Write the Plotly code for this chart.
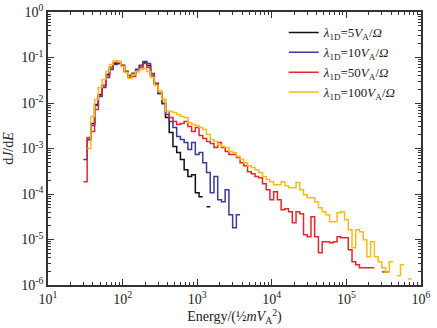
import numpy as np
import plotly.graph_objects as go

# Energy bins: log-spaced, 20 per decade, starting at 10**1.475
n_bins = 88
bin_edges = 10 ** (1.475 + 0.05 * np.arange(n_bins + 1))

N = None
# dJ/dE for each bin (None = empty bin)
black_5 = [N, 1.57e-3, 3.53e-3, 9.27e-3, 0.0154, 0.0243, 0.0425, 0.0605, 0.0741, 0.0741,
           0.067, 0.0494, 0.0404, 0.0447, 0.0547, 0.067, 0.078, 0.067, 0.0404, 0.0269,
           0.0162, 9.75e-3, 4.8e-3, 2.24e-3, 1.1e-3, 8.13e-4, 5.7e-4, 3.43e-4, 2.41e-4, 2.66e-4,
           1.07e-4, 8.73e-5, N, 5.25e-5]

blue_10 = [5.7e-4, 1.57e-3, 3.19e-3, 8.81e-3, 0.0139, 0.0219, 0.0365, 0.0547, 0.0705, 0.0741,
           0.067, 0.0494, 0.0404, 0.0447, 0.0547, 0.067, 0.082, 0.0741, 0.0447, 0.0269,
           0.0162, 9.75e-3, 5.58e-3, 3.91e-3, 2.88e-3, 1.83e-3, 1.57e-3, 1.35e-3, 9.46e-4, 1.35e-3,
           7.34e-4, 8.13e-4, 4.89e-4, 2.95e-4, 1.07e-4, 2.41e-4, 7.5e-5, 6.77e-5, 1.24e-4, 3.5e-5,
           1.81e-5, 3.5e-5]

red_50 = [1.87e-4, 1.74e-3, 2.36e-3, 7.19e-3, 0.0146, 0.0243, 0.0404, 0.0605, 0.078, 0.082,
          0.067, 0.0494, 0.0365, 0.0384, 0.0494, 0.0605, 0.0741, 0.0605, 0.0404, 0.0269,
          0.0179, 0.0119, 6.5e-3, 4.8e-3, 3.91e-3, 3.36e-3, 3.53e-3, 3.91e-3, 3.03e-3, 2.36e-3,
          2.88e-3, 1.92e-3, 1.65e-3, 1.42e-3, 1.28e-3, 1.05e-3, 1.35e-3, 1.05e-3, 8.55e-4, 7.34e-4,
          7.34e-4, 6.31e-4, 4.89e-4, 4.2e-4, 3.1e-4, 2.8e-4, 2.41e-4, 2.29e-4, 1.69e-4, 1.24e-4,
          7.5e-5, 1.12e-4, 7.5e-5, 4.51e-5, 4.74e-5, 4.07e-5, 2.33e-5, 4.07e-5, 3.68e-5, 1.27e-5,
          1.15e-5, 3.16e-5, 1.15e-5, 5.09e-6, 8.9e-6, 8.9e-6, 8.46e-6, 8.9e-6, 1.15e-5, 1.09e-5,
          1.09e-5, 5.93e-6, 3.23e-6, 2.77e-6, 2.38e-6, 2.38e-6, 2.38e-6, 2.38e-6, N, N,
          1.94e-6, 1.94e-6]

yellow_100 = [N, 9.95e-4, 5.05e-3, 0.0119, 0.0219, 0.033, 0.0494, 0.0705, 0.0863, 0.082,
              0.0637, 0.047, 0.0347, 0.0425, 0.0494, 0.0547, 0.0575, 0.0494, 0.0365, 0.0243,
              0.0179, 0.0119, 6.5e-3, 6.5e-3, 6.18e-3, 5.58e-3, 5.05e-3, 4.8e-3, 3.72e-3, 3.36e-3,
              3.19e-3, 2.88e-3, 2.61e-3, 2.02e-3, 1.57e-3, 1.42e-3, 1.22e-3, 1.1e-3, 1.05e-3, 8.55e-4,
              8.13e-4, 6.64e-4, 5.7e-4, 4.89e-4, 4.2e-4, 3.8e-4, 3.43e-4, 2.95e-4, 2.41e-4, 2.07e-4,
              1.87e-4, 1.6e-4, 1.6e-4, 1.87e-4, 1.52e-4, 1.38e-4, 1.38e-4, 1.78e-4, 1.24e-4, 9.66e-5,
              8.3e-5, 8.3e-5, 6.77e-5, 4.99e-5, 4.07e-5, 3.5e-5, 2.45e-5, 2.45e-5, 3.87e-5, 4.07e-5,
              2.72e-5, 1.64e-5, 6.56e-6, 1.64e-5, 1.48e-5, 9.85e-6, 4.16e-6, 8.9e-6, 4.16e-6, 3.23e-6,
              2.38e-6, 1.94e-6, 3.23e-6, N, 1.59e-6, 2.77e-6, N, 1.36e-6]

series = [
    ("<i>λ</i><sub>1D</sub>=5<i>V</i><sub>A</sub>/<i>Ω</i>", black_5, "#111111"),
    ("<i>λ</i><sub>1D</sub>=10<i>V</i><sub>A</sub>/<i>Ω</i>", blue_10, "#3b3b9c"),
    ("<i>λ</i><sub>1D</sub>=50<i>V</i><sub>A</sub>/<i>Ω</i>", red_50, "#e8252d"),
    ("<i>λ</i><sub>1D</sub>=100<i>V</i><sub>A</sub>/<i>Ω</i>", yellow_100, "#f8bd10"),
]

x_exponents = [1, 2, 3, 4, 5, 6]
y_exponents = [-6, -5, -4, -3, -2, -1, 0]


def step_path(values):
    xs, ys = [], []
    for i, v in enumerate(values):
        if v is None:
            if xs and xs[-1] is not None:
                xs.append(None)
                ys.append(None)
            continue
        xs += [bin_edges[i], bin_edges[i + 1]]
        ys += [v, v]
    return xs, ys


def decade_ticks(exps):
    vals = [10.0 ** e for e in exps]
    text = ["10<sup>%d</sup>" % e for e in exps]
    minor = [m * 10.0 ** e for e in exps[:-1] for m in range(2, 10)]
    return vals, text, minor


fig = go.Figure()
for name, vals, color in series:
    xs, ys = step_path(vals)
    fig.add_trace(go.Scatter(x=xs, y=ys, mode="lines", name=name,
                             line=dict(color=color, width=1.5),
                             connectgaps=False))

font_family = "Liberation Serif, Times New Roman, serif"


def axis(exps):
    vals, text, minor = decade_ticks(exps)
    return dict(
        type="log", range=[exps[0], exps[-1]], automargin=False,
        showline=True, linecolor="#333333", linewidth=1.6,
        mirror="allticks", ticks="inside", ticklen=6, tickwidth=1, tickcolor="#333333",
        tickmode="array", tickvals=vals, ticktext=text,
        showgrid=False, zeroline=False,
        minor=dict(tickmode="array", tickvals=minor, ticks="inside", ticklen=3,
                   tickcolor="#333333", showgrid=False),
        tickfont=dict(family=font_family, size=14, color="#222222"),
    )


xa = axis(x_exponents)
xa["title"] = dict(text="Energy/(½<i>mV</i><sub>A</sub><sup>2</sup>)", standoff=4,
                   font=dict(size=14))
ya = axis(y_exponents)
ya["title"] = dict(text="d<i>J</i>/d<i>E</i>", standoff=4, font=dict(size=14))

fig.update_layout(
    width=437, height=328,
    margin=dict(l=48, r=16, t=12, b=43),
    paper_bgcolor="white", plot_bgcolor="white",
    font=dict(family=font_family, size=14, color="#222222"),
    xaxis=xa, yaxis=ya,
    legend=dict(x=0.632, y=0.98, xanchor="left", yanchor="top",
                bgcolor="rgba(0,0,0,0)", font=dict(family=font_family, size=13),
                itemwidth=30, tracegroupgap=0),
    showlegend=True,
)

# remove the page's default body margin so the figure sits at the window origin
fig.write_html("out.html", config={"displayModeBar": False},
               post_script="document.body.style.margin='0';")
